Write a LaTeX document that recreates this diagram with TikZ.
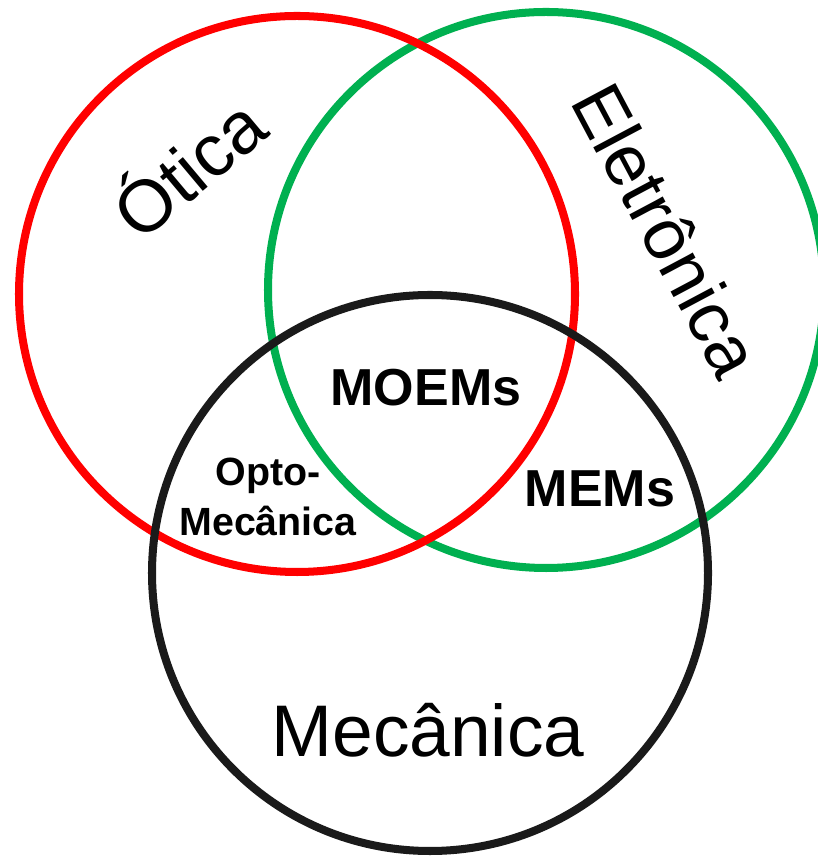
\documentclass[tikz,border=0pt]{standalone}
\usepackage{fontspec}
\setmainfont{Liberation Sans}
\usepackage{tikz}
\usetikzlibrary{positioning}
\definecolor{otica}{HTML}{FF0000}
\definecolor{eletro}{HTML}{00B050}
\definecolor{mecan}{HTML}{1A1A1A}
\tikzset{
  ring/.style={
    draw=#1, line width=5.7pt,
  },
  areaName/.style={
    inner sep=0pt, font=\fontsize{52}{56}\selectfont,
  },
  overlap/.style={
    inner sep=0pt, align=center, font=\bfseries\fontsize{37}{40}\selectfont,
  },
}

\begin{document}
\begin{tikzpicture}[x=0.025cm, y=0.025cm]
\useasboundingbox (0,0) rectangle (817,860);

% The three fields
\draw[ring=eletro] (546,570) circle (278);
\draw[ring=otica]  (297,566) circle (278);
\draw[ring=mecan]  (430,287) circle (278);

% Field names
\node[areaName, rotate=40] (otica) at (186,695) {Ótica};
\node[areaName, rotate=-62, font=\fontsize{51}{55}\selectfont]
   (eletronica) at (667,630) {Eletrônica};
\node[areaName] (mecanica) at (428,130) {Mecânica};

% Overlaps
\node[overlap] (moems) at (426,472) {MOEMs};
\node[overlap, font=\bfseries\fontsize{28}{35.5}\selectfont]
   (optomec) at (268,363) {Opto-\\Mecânica};
\node[overlap] (mems) at (600,371) {MEMs};

\end{tikzpicture}
\end{document}
